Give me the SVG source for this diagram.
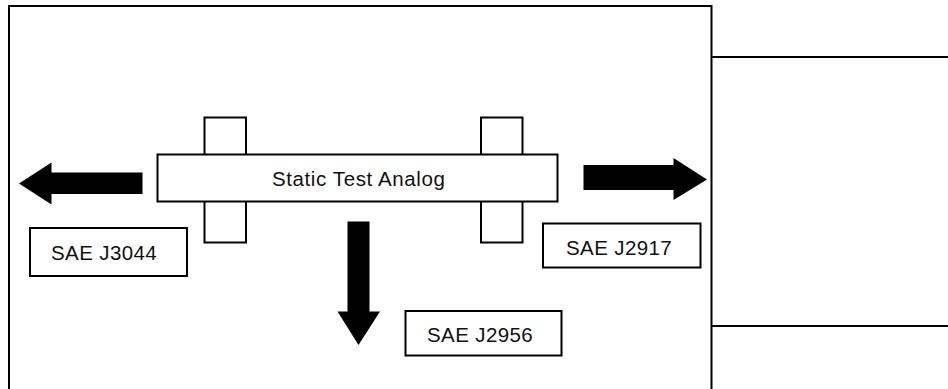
<svg xmlns="http://www.w3.org/2000/svg" width="948" height="389" viewBox="0 0 948 389">
<style>
.box{fill:#fff;stroke:#000;stroke-width:2}
.ln{fill:none;stroke:#000;stroke-width:2}
.arr{fill:#000;stroke:none}
text{font-family:"Liberation Sans",Arial,sans-serif;font-size:20.5px;fill:#111;letter-spacing:0.4px}
</style>
<rect width="948" height="389" fill="#fff"/>
<g id="frame">
<path class="ln" d="M9,389 V6 H711.5 V389"/>
<path class="ln" d="M711.5,57 H948 M711.5,326 H948"/>
</g>
<g id="analog">
<rect class="box" x="204.5" y="117.5" width="41.5" height="125"/>
<rect class="box" x="481" y="117.5" width="41.5" height="125"/>
<rect class="box" x="157.5" y="154.5" width="400" height="47"/>
<text x="272" y="186" font-size="21" style="letter-spacing:0.6px">Static Test Analog</text>
</g>
<g id="connectors">
<polygon class="arr" points="142.5,172.5 51.5,172.5 51.5,162.5 19,183.5 51.5,204.5 51.5,194 142.5,194"/>
<polygon class="arr" points="583.5,165 673.5,165 673.5,158 707,179.5 673.5,200 673.5,190 583.5,190"/>
<polygon class="arr" points="347.5,221.5 369.5,221.5 369.5,311.5 380,311.5 358.5,345 337.5,311.5 347.5,311.5"/>
</g>
<g id="j3044">
<rect class="box" x="30" y="228" width="157" height="48"/>
<text x="51" y="259.5">SAE J3044</text>
</g>
<g id="j2917">
<rect class="box" x="543" y="223.5" width="157.5" height="44"/>
<text x="566" y="254.5">SAE J2917</text>
</g>
<g id="j2956">
<rect class="box" x="405.5" y="311" width="156" height="44.5"/>
<text x="427" y="342">SAE J2956</text>
</g>
</svg>
